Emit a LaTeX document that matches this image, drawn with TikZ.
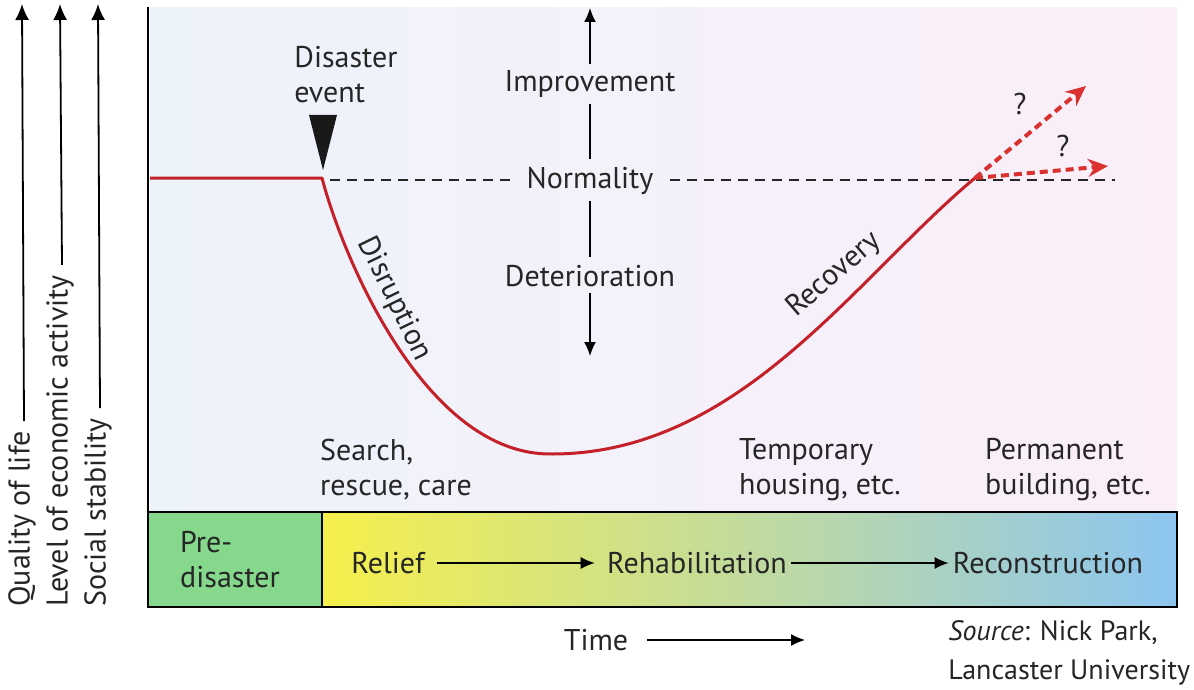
\documentclass[tikz,border=0pt]{standalone}
\usepackage{fontspec}
\setmainfont{PT Sans}
\usetikzlibrary{arrows.meta}
\definecolor{curvered}{HTML}{C42028}
\definecolor{dashred}{HTML}{D8312E}
\definecolor{bgblue}{HTML}{EDF3FB}
\definecolor{bgpink}{HTML}{FBEEF9}
\definecolor{pregreen}{HTML}{86D98C}
\definecolor{boxyellow}{HTML}{F6F04C}
\definecolor{boxmid}{HTML}{D9EDC0}
\definecolor{boxblue}{HTML}{8CC5F0}
\begin{document}
\begin{tikzpicture}[x=0.5pt,y=-0.5pt,
  every node/.style={inner sep=0pt, font=\fontsize{15}{17.5}\selectfont, text=black!85},
  axisarrow/.style={line width=0.9pt, -{Latex[length=8pt,width=7pt]}},
  thinarrow/.style={line width=0.7pt, -{Latex[length=7pt,width=6pt]}},
  redline/.style={curvered, line width=1.5pt},
  reddash/.style={dashred, line width=2pt, dash pattern=on 4pt off 2.5pt, -{Stealth[length=10pt,width=9pt]}},
  normdash/.style={black!85, line width=0.8pt, dash pattern=on 5pt off 3.5pt},
  labelblock/.style={align=left}
]
\useasboundingbox (0,0) rectangle (1194,690);
\fill[white] (0,0) rectangle (1194,690);
% chart background
\shade[left color=bgblue, right color=bgpink] (150,8) rectangle (1177,512);
% bottom box
\shade[left color=boxyellow, middle color=boxmid, right color=boxblue] (322,512) rectangle (1177,607);
\fill[pregreen] (148,512) rectangle (322,607);
\draw[line width=1.2pt] (148,512) rectangle (1177,607);
\draw[line width=1pt] (322,512) -- (322,607);
\draw[line width=1.2pt] (148,7) -- (148,607);

% left axis labels
\coordinate (topy) at (0,4);
\node[rotate=90, anchor=west] (q) at (22,607) {Quality of life};
\node[rotate=90, anchor=west] (l) at (60,607) {Level of economic activity};
\node[rotate=90, anchor=west] (s) at (98,607) {Social stability};
\draw[axisarrow] ([xshift=1pt]q.east) ++(0,-10) -- (q.east |- topy);
\draw[axisarrow] ([xshift=1pt]l.east) ++(0,-10) -- (l.east |- topy);
\draw[axisarrow] ([xshift=1pt]s.east) ++(0,-10) -- (s.east |- topy);

% vertical improvement/deterioration arrow
\node (imp) at (590,84) {Improvement};
\node (norm) at (590,181) {Normality};
\node (det) at (590,276) {Deterioration};
\coordinate (vtop) at (590,8);
\coordinate (vbot) at (590,356);
\draw[thinarrow] ([yshift=3pt]imp.north) -- (vtop);
\draw[line width=0.7pt] ([yshift=-3pt]imp.south) -- ([yshift=4pt]norm.north);
\draw[line width=0.7pt] ([yshift=-3pt]norm.south) -- ([yshift=4pt]det.north);
\draw[thinarrow] ([yshift=-3pt]det.south) -- (vbot);

% normality dashed line
\coordinate (dstart) at (330,180);
\coordinate (dend) at (1115,180);
\draw[normdash] (dstart) -- ([xshift=-8pt]norm.west |- dstart);
\draw[normdash] ([xshift=8pt]norm.east |- dstart) -- (dend);

% disaster event
\node[labelblock, anchor=north west] (dis) at (294,46) {Disaster\\event};
\coordinate (tri) at (323,170);
\fill[black!90] (309,115) -- (337,115) -- (tri) -- cycle;

% curve
\coordinate (c0) at (150,178);
\coordinate (c1) at (322,178);
\coordinate (cmin) at (552,454);
\coordinate (cend) at (975,178);
\draw[redline, line join=round] (c0) -- (c1)
  .. controls (342,255) and (425,456) .. (cmin)
  .. controls (740,454) and (855,278) .. (cend);

\node[rotate=-64] (disr) at (394,299) {Disruption};
\node[rotate=41] (rec) at (834,275) {Recovery};

% future paths
\coordinate (up) at (1086,86);
\coordinate (flat) at (1108,166);
\draw[reddash] (cend) -- (up);
\draw[reddash] (cend) -- (flat);
\node (q1) at (1020,104) {?};
\node (q2) at (1063,146) {?};

% phase labels above box
\node[labelblock] (srch) at (396,470) {Search,\\rescue, care};
\node[labelblock] (temp) at (820,470) {Temporary\\housing, etc.};
\node[labelblock] (perm) at (1068,470) {Permanent\\building, etc.};

% box labels
\node[labelblock] (pre) at (230,560) {Pre-\\disaster};
\node (relief) at (388,563) {Relief};
\node (rehab) at (697,563) {Rehabilitation};
\node (recon) at (1048,563) {Reconstruction};
\draw[thinarrow] ([xshift=6pt]relief.east) -- ([xshift=-6pt]rehab.west);
\draw[thinarrow] ([xshift=2pt]rehab.east) -- ([xshift=-2pt]recon.west);

% time
\node (time) at (596,640) {Time};
\coordinate (tend) at (805,640);
\draw[thinarrow] ([xshift=9pt]time.east) -- (tend);

% source
\node[labelblock, anchor=north west, font=\fontsize{14}{19.5}\selectfont] (src) at (948,620) {\textit{Source}: Nick Park,\\Lancaster University};
\end{tikzpicture}
\end{document}
